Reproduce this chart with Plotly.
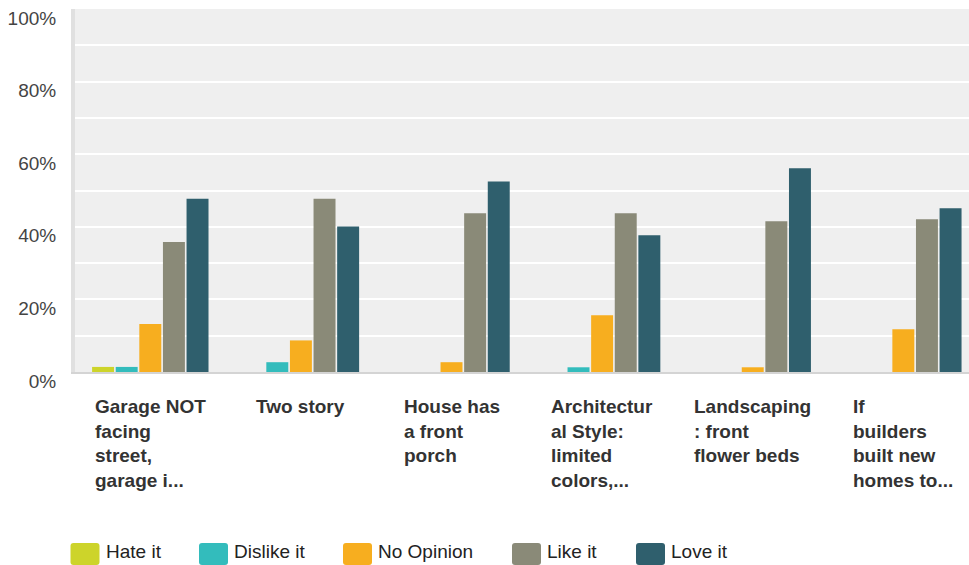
import plotly.graph_objects as go

categories = [
    "Garage NOT<br>facing<br>street,<br>garage i...",
    "Two story",
    "House has<br>a front<br>porch",
    "Architectur<br>al Style:<br>limited<br>colors,...",
    "Landscaping<br>: front<br>flower beds",
    "If<br>builders<br>built new<br>homes to...",
]
series_names = ["Hate it", "Dislike it", "No Opinion", "Like it", "Love it"]
hate_it = [1.4, 0, 0, 0, 0, 0]
dislike_it = [1.4, 2.7, 0, 1.3, 0, 0]
no_opinion = [13.2, 8.7, 2.7, 15.6, 1.3, 11.8]
like_it = [35.8, 47.7, 43.7, 43.7, 41.5, 42.1]
love_it = [47.7, 40.1, 52.5, 37.7, 56.1, 45.1]
y_tick_values = [0, 10, 20, 30, 40, 50, 60, 70, 80, 90, 100]
y_tick_labels = ["0%", "", "20%", "", "40%", "", "60%", "", "80%", "", "100%"]

colors = ["#cdd42a", "#33bcbc", "#f7ae1f", "#8a8a78", "#2f5f6d"]
all_values = [hate_it, dislike_it, no_opinion, like_it, love_it]
xs = list(range(len(categories)))

fig = go.Figure()
for name, vals, col in zip(series_names, all_values, colors):
    fig.add_trace(go.Bar(x=xs, y=vals, name=name, marker=dict(color=col, line=dict(width=0)),
                         showlegend=False))

W, H = 969, 565
ML, MR, MT, MB = 75, 0, 9, 193
PW, PH = W - ML - MR, H - MT - MB


def px_x(p):
    return (p - ML) / PW


def px_y(p):
    return (H - MB - p) / PH


annotations = []
for i, lab in enumerate(categories):
    annotations.append(dict(x=i, y=px_y(394), xref="x", yref="paper", text=lab, showarrow=False,
                            xanchor="center", yanchor="top", align="left",
                            font=dict(family="Liberation Sans, Arial", size=19, color="#333333",
                                      weight="bold")))

# manual legend
legend_sq_x = [70.5, 199, 343, 512, 636]
shapes = []
r = 3
for name, col, sx in zip(series_names, colors, legend_sq_x):
    x0, x1 = sx, sx + 29
    y0, y1 = 543, 565
    pts = (f"M {px_x(x0 + r)},{px_y(y0)} L {px_x(x1 - r)},{px_y(y0)} "
           f"Q {px_x(x1)},{px_y(y0)} {px_x(x1)},{px_y(y0 + r)} "
           f"L {px_x(x1)},{px_y(y1 - r)} Q {px_x(x1)},{px_y(y1)} {px_x(x1 - r)},{px_y(y1)} "
           f"L {px_x(x0 + r)},{px_y(y1)} Q {px_x(x0)},{px_y(y1)} {px_x(x0)},{px_y(y1 - r)} "
           f"L {px_x(x0)},{px_y(y0 + r)} Q {px_x(x0)},{px_y(y0)} {px_x(x0 + r)},{px_y(y0)} Z")
    shapes.append(dict(type="path", path=pts, xref="paper", yref="paper",
                       fillcolor=col, line=dict(width=0), layer="above"))
    annotations.append(dict(x=px_x(x1 + 4), y=px_y(551), xref="paper", yref="paper", text=name,
                            showarrow=False, xanchor="left", yanchor="middle",
                            font=dict(family="Liberation Sans, Arial", size=19, color="#222222")))

fig.update_layout(
    width=W, height=H,
    margin=dict(l=ML, r=MR, t=MT, b=MB, pad=0),
    paper_bgcolor="white", plot_bgcolor="#efefef",
    barmode="group", bargap=0.216, bargroupgap=0.07,
    font=dict(family="Liberation Sans, Arial", size=19, color="#444444"),
    xaxis=dict(range=[-0.5, 5.436], showticklabels=False, showgrid=False, zeroline=False,
               showline=True, linecolor="#d4d4d4", linewidth=2, ticks=""),
    yaxis=dict(range=[0, 100], tickvals=y_tick_values, ticktext=y_tick_labels,
               showgrid=True, gridcolor="white", gridwidth=2, zeroline=False,
               showline=True, linecolor="#e0e0e0", linewidth=4, ticks="",
               ticklabelstandoff=11, ticklabelshift=9,
               tickfont=dict(size=19, color="#444444")),
    annotations=annotations,
    shapes=shapes,
)

fig.write_html("out.html", config={"displayModeBar": False},
               post_script="document.body.style.margin='0';document.body.style.overflow='hidden';")
